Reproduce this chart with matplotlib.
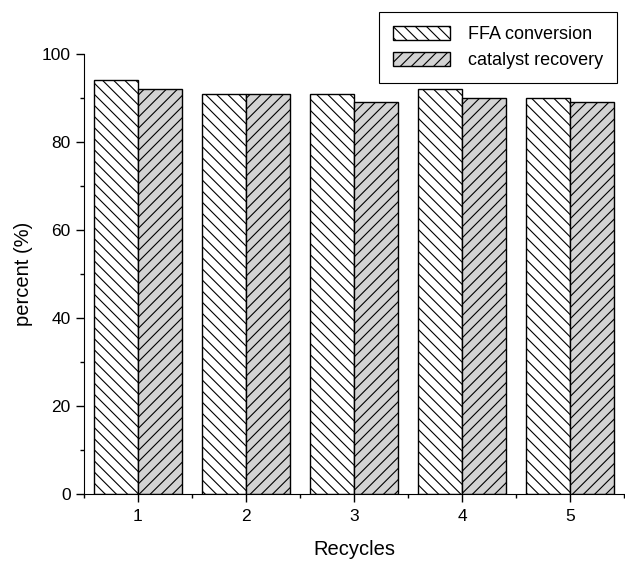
import numpy as np
import matplotlib
matplotlib.use("Agg")
import matplotlib.pyplot as plt
from matplotlib.ticker import MultipleLocator

plt.rcParams['font.family'] = ['Liberation Sans', 'DejaVu Sans']
plt.rcParams['hatch.linewidth'] = 0.8

# data
recycles = [1, 2, 3, 4, 5]
ffa_conversion = [94, 91, 91, 92, 90]
catalyst_recovery = [92, 91, 89, 90, 89]

fig = plt.figure(figsize=(6.25, 5.61), dpi=100)
ax = fig.add_axes([84 / 625, 1 - 494 / 561, 540 / 625, (494 - 54) / 561])

x = np.array(recycles)
w = 0.405
ax.bar(x - w / 2, ffa_conversion, width=w, facecolor='white', edgecolor='black',
       linewidth=1.0, hatch='\\\\\\', label='FFA conversion')
ax.bar(x + w / 2, catalyst_recovery, width=w, facecolor='#d3d3d3', edgecolor='black',
       linewidth=1.0, hatch='///', label='catalyst recovery')

ax.set_xlim(0.5, 5.5)
ax.set_ylim(0, 100)
ax.set_xticks(recycles)
ax.xaxis.set_minor_locator(MultipleLocator(0.5))
ax.yaxis.set_major_locator(MultipleLocator(20))
ax.yaxis.set_minor_locator(MultipleLocator(10))
ax.tick_params(which='both', direction='out', labelsize=12.5, width=1)
ax.tick_params(which='major', length=6)
ax.tick_params(which='minor', length=3)
ax.tick_params(axis='x', pad=5)

for s in ['top', 'right']:
    ax.spines[s].set_visible(False)

ax.set_xlabel('Recycles', fontsize=14.5, labelpad=11)
ax.set_ylabel('percent (%)', fontsize=14.5, labelpad=6)

leg = ax.legend(loc='upper right', bbox_to_anchor=(617 / 625, 1 - 12 / 561),
                bbox_transform=fig.transFigure, fontsize=13, fancybox=False,
                edgecolor='black', framealpha=1, handlelength=3.2, handleheight=0.85,
                handletextpad=1.0, labelspacing=0.5, borderpad=0.75, borderaxespad=0)
leg.get_frame().set_linewidth(0.8)

fig.savefig('out.png', dpi=100)
